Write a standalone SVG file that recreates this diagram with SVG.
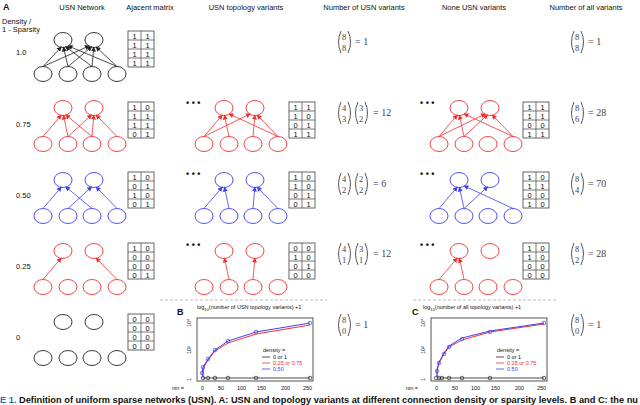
<svg xmlns="http://www.w3.org/2000/svg" width="640" height="405" viewBox="0 0 640 405">
<style>
text{font-family:"Liberation Sans",Arial,sans-serif;fill:#111}
.h{font-size:7.5px;text-anchor:middle}
.lab{font-size:7.5px}
.k{stroke:#222}
.r{stroke:#f03030}
.b{stroke:#4040f0}
.nd ellipse{fill:none;stroke-width:0.9}
.ek path{stroke:#222;stroke-width:0.8;fill:none;marker-end:url(#ak)}
.er path{stroke:#f03030;stroke-width:0.8;fill:none;marker-end:url(#ar)}
.eb path{stroke:#4040f0;stroke-width:0.8;fill:none;marker-end:url(#ab)}
.m rect{fill:#fff;stroke:#555;stroke-width:0.9}
.m line{stroke:#555;stroke-width:0.8}
.m text{font-size:7.5px;text-anchor:middle}
.bn text{font-family:"Liberation Serif",serif;font-size:8.5px;fill:#444}
.bn path{fill:none;stroke:#444;stroke-width:0.9}
.eq{font-family:"Liberation Serif",serif;font-size:10px;fill:#444}
.dots{font-size:9px;font-weight:bold}
.ax{fill:none;stroke:#555;stroke-width:1}
.t{font-size:5.5px}
.sep{stroke:#aaa;stroke-width:0.8;stroke-dasharray:3,2}
</style>
<defs>
<marker id="ak" markerWidth="5" markerHeight="5" refX="4" refY="2.5" orient="auto" markerUnits="userSpaceOnUse"><path d="M0,0 L5,2.5 L0,5z" fill="#222"/></marker>
<marker id="ar" markerWidth="5" markerHeight="5" refX="4" refY="2.5" orient="auto" markerUnits="userSpaceOnUse"><path d="M0,0 L5,2.5 L0,5z" fill="#f03030"/></marker>
<marker id="ab" markerWidth="5" markerHeight="5" refX="4" refY="2.5" orient="auto" markerUnits="userSpaceOnUse"><path d="M0,0 L5,2.5 L0,5z" fill="#4040f0"/></marker>
<g id="nodes36" fill="none" stroke-width="0.9"><ellipse cx="63" cy="0" rx="9" ry="7.5"/><ellipse cx="94" cy="0" rx="9" ry="7.5"/><ellipse cx="43" cy="36" rx="9" ry="7.5"/><ellipse cx="68" cy="36" rx="9" ry="7.5"/><ellipse cx="92" cy="36" rx="9" ry="7.5"/><ellipse cx="117" cy="36" rx="9" ry="7.5"/></g>
</defs>

<!-- headers -->
<text x="3" y="10" style="font-size:9px;font-weight:bold">A</text>
<text class="h" x="82" y="10">USN Network</text>
<text class="h" x="150" y="10">Ajacent matrix</text>
<text class="h" x="246" y="10">USN topology variants</text>
<text class="h" x="364" y="10">Number of USN variants</text>
<text class="h" x="474" y="10">None USN variants</text>
<text class="h" x="586" y="10">Number of all variants</text>
<text class="lab" x="2" y="24">Density /</text>
<text class="lab" x="2" y="32">1 - Sparsity</text>
<text class="lab" x="16" y="55">1.0</text>
<text class="lab" x="16" y="127">0.75</text>
<text class="lab" x="16" y="198">0.50</text>
<text class="lab" x="16" y="269">0.25</text>
<text class="lab" x="16" y="340">0</text>
<text class="dots" x="186" y="106">• • •</text>
<text class="dots" x="186" y="177">• • •</text>
<text class="dots" x="186" y="248">• • •</text>
<text class="dots" x="420" y="106">• • •</text>
<text class="dots" x="420" y="177">• • •</text>
<text class="dots" x="420" y="248">• • •</text>

<!-- nodes -->
<g id="net10" class="k nd" transform="translate(0,40)"><ellipse cx="63" cy="0" rx="9" ry="7.5"/><ellipse cx="94" cy="0" rx="9" ry="7.5"/><ellipse cx="43" cy="34" rx="9" ry="7.5"/><ellipse cx="68" cy="34" rx="9" ry="7.5"/><ellipse cx="92" cy="34" rx="9" ry="7.5"/><ellipse cx="117" cy="34" rx="9" ry="7.5"/></g>
<g id="net075a" class="r" transform="translate(0,108)"><use href="#nodes36"/></g>
<g id="net075b" class="r" transform="translate(161,108)"><use href="#nodes36"/></g>
<g id="net075c" class="r" transform="translate(396,108)"><use href="#nodes36"/></g>
<g id="net050a" class="b" transform="translate(0,180)"><use href="#nodes36"/></g>
<g id="net050b" class="b" transform="translate(161,180)"><use href="#nodes36"/></g>
<g id="net050c" class="b" transform="translate(396,180)"><use href="#nodes36"/></g>
<g id="net025a" class="r" transform="translate(0,251)"><use href="#nodes36"/></g>
<g id="net025b" class="r" transform="translate(161,251)"><use href="#nodes36"/></g>
<g id="net025c" class="r" transform="translate(396,251)"><use href="#nodes36"/></g>
<g id="net0" class="k" transform="translate(0,322)"><use href="#nodes36"/></g>

<!-- connectors -->
<g id="connectors">
<g class="ek" transform="translate(0,40)">
<path d="M43,26.5 L61,7.3"/><path d="M68,26.5 L63.5,7.5"/><path d="M92,26.5 L65.9,6.9"/><path d="M117,26.5 L68.4,6"/>
<path d="M43,26.5 L89,6"/><path d="M68,26.5 L91.4,7"/><path d="M92,26.5 L93.8,7.5"/><path d="M117,26.5 L96.3,7.2"/>
</g>
<g class="er" transform="translate(0,108)">
<path d="M43,28.5 L61,7.3"/><path d="M68,28.5 L63.5,7.5"/><path d="M68,28.5 L91.4,7"/><path d="M92,28.5 L65.9,6.9"/><path d="M92,28.5 L93.8,7.5"/><path d="M117,28.5 L96.3,7.2"/>
</g>
<g class="er" transform="translate(161,108)">
<path d="M43,28.5 L61,7.3"/><path d="M43,28.5 L89,6"/><path d="M68,28.5 L63.5,7.5"/><path d="M92,28.5 L93.8,7.5"/><path d="M117,28.5 L68.4,6"/><path d="M117,28.5 L96.3,7.2"/>
</g>
<g class="er" transform="translate(396,108)">
<path d="M43,28.5 L61,7.3"/><path d="M43,28.5 L89,6"/><path d="M68,28.5 L63.5,7.5"/><path d="M68,28.5 L91.4,7"/><path d="M117,28.5 L68.4,6"/><path d="M117,28.5 L96.3,7.2"/>
</g>
<g class="eb" transform="translate(0,180)">
<path d="M43,28.5 L61,7.3"/><path d="M68,28.5 L91.4,7"/><path d="M92,28.5 L65.9,6.9"/><path d="M117,28.5 L96.3,7.2"/>
</g>
<g class="eb" transform="translate(161,180)">
<path d="M43,28.5 L61,7.3"/><path d="M68,28.5 L63.5,7.5"/><path d="M92,28.5 L93.8,7.5"/><path d="M117,28.5 L96.3,7.2"/>
</g>
<g class="eb" transform="translate(396,180)">
<path d="M43,28.5 L61,7.3"/><path d="M68,28.5 L63.5,7.5"/><path d="M68,28.5 L91.4,7"/><path d="M117,28.5 L68.4,6"/>
</g>
<g class="er" transform="translate(0,251)">
<path d="M43,28.5 L61,7.3"/><path d="M117,28.5 L96.3,7.2"/>
</g>
<g class="er" transform="translate(161,251)">
<path d="M68,28.5 L63.5,7.5"/><path d="M92,28.5 L93.8,7.5"/>
</g>
<g class="er" transform="translate(396,251)">
<path d="M43,28.5 L61,7.3"/><path d="M68,28.5 L63.5,7.5"/>
</g>
</g>

<!-- matrices -->
<g class="m" transform="translate(128,31)"><rect width="26" height="36"/><line x1="13" y1="0" x2="13" y2="36"/><line x1="0" y1="9" x2="26" y2="9"/><line x1="0" y1="18" x2="26" y2="18"/><line x1="0" y1="27" x2="26" y2="27"/>
<text x="6.5" y="7.5">1</text><text x="19.5" y="7.5">1</text><text x="6.5" y="16.5">1</text><text x="19.5" y="16.5">1</text><text x="6.5" y="25.5">1</text><text x="19.5" y="25.5">1</text><text x="6.5" y="34.5">1</text><text x="19.5" y="34.5">1</text></g>
<g class="m" transform="translate(128,102)"><rect width="26" height="36"/><line x1="13" y1="0" x2="13" y2="36"/><line x1="0" y1="9" x2="26" y2="9"/><line x1="0" y1="18" x2="26" y2="18"/><line x1="0" y1="27" x2="26" y2="27"/>
<text x="6.5" y="7.5">1</text><text x="19.5" y="7.5">0</text><text x="6.5" y="16.5">1</text><text x="19.5" y="16.5">1</text><text x="6.5" y="25.5">1</text><text x="19.5" y="25.5">1</text><text x="6.5" y="34.5">0</text><text x="19.5" y="34.5">1</text></g>
<g class="m" transform="translate(289,102)"><rect width="26" height="36"/><line x1="13" y1="0" x2="13" y2="36"/><line x1="0" y1="9" x2="26" y2="9"/><line x1="0" y1="18" x2="26" y2="18"/><line x1="0" y1="27" x2="26" y2="27"/>
<text x="6.5" y="7.5">1</text><text x="19.5" y="7.5">1</text><text x="6.5" y="16.5">1</text><text x="19.5" y="16.5">0</text><text x="6.5" y="25.5">0</text><text x="19.5" y="25.5">1</text><text x="6.5" y="34.5">1</text><text x="19.5" y="34.5">1</text></g>
<g class="m" transform="translate(523,102)"><rect width="26" height="36"/><line x1="13" y1="0" x2="13" y2="36"/><line x1="0" y1="9" x2="26" y2="9"/><line x1="0" y1="18" x2="26" y2="18"/><line x1="0" y1="27" x2="26" y2="27"/>
<text x="6.5" y="7.5">1</text><text x="19.5" y="7.5">1</text><text x="6.5" y="16.5">1</text><text x="19.5" y="16.5">1</text><text x="6.5" y="25.5">0</text><text x="19.5" y="25.5">0</text><text x="6.5" y="34.5">1</text><text x="19.5" y="34.5">1</text></g>
<g class="m" transform="translate(128,172)"><rect width="26" height="36"/><line x1="13" y1="0" x2="13" y2="36"/><line x1="0" y1="9" x2="26" y2="9"/><line x1="0" y1="18" x2="26" y2="18"/><line x1="0" y1="27" x2="26" y2="27"/>
<text x="6.5" y="7.5">1</text><text x="19.5" y="7.5">0</text><text x="6.5" y="16.5">0</text><text x="19.5" y="16.5">1</text><text x="6.5" y="25.5">1</text><text x="19.5" y="25.5">0</text><text x="6.5" y="34.5">0</text><text x="19.5" y="34.5">1</text></g>
<g class="m" transform="translate(289,172)"><rect width="26" height="36"/><line x1="13" y1="0" x2="13" y2="36"/><line x1="0" y1="9" x2="26" y2="9"/><line x1="0" y1="18" x2="26" y2="18"/><line x1="0" y1="27" x2="26" y2="27"/>
<text x="6.5" y="7.5">1</text><text x="19.5" y="7.5">0</text><text x="6.5" y="16.5">1</text><text x="19.5" y="16.5">0</text><text x="6.5" y="25.5">0</text><text x="19.5" y="25.5">1</text><text x="6.5" y="34.5">0</text><text x="19.5" y="34.5">1</text></g>
<g class="m" transform="translate(523,172)"><rect width="26" height="36"/><line x1="13" y1="0" x2="13" y2="36"/><line x1="0" y1="9" x2="26" y2="9"/><line x1="0" y1="18" x2="26" y2="18"/><line x1="0" y1="27" x2="26" y2="27"/>
<text x="6.5" y="7.5">1</text><text x="19.5" y="7.5">0</text><text x="6.5" y="16.5">1</text><text x="19.5" y="16.5">1</text><text x="6.5" y="25.5">0</text><text x="19.5" y="25.5">0</text><text x="6.5" y="34.5">1</text><text x="19.5" y="34.5">0</text></g>
<g class="m" transform="translate(128,243)"><rect width="26" height="36"/><line x1="13" y1="0" x2="13" y2="36"/><line x1="0" y1="9" x2="26" y2="9"/><line x1="0" y1="18" x2="26" y2="18"/><line x1="0" y1="27" x2="26" y2="27"/>
<text x="6.5" y="7.5">1</text><text x="19.5" y="7.5">0</text><text x="6.5" y="16.5">0</text><text x="19.5" y="16.5">0</text><text x="6.5" y="25.5">0</text><text x="19.5" y="25.5">0</text><text x="6.5" y="34.5">0</text><text x="19.5" y="34.5">1</text></g>
<g class="m" transform="translate(289,243)"><rect width="26" height="36"/><line x1="13" y1="0" x2="13" y2="36"/><line x1="0" y1="9" x2="26" y2="9"/><line x1="0" y1="18" x2="26" y2="18"/><line x1="0" y1="27" x2="26" y2="27"/>
<text x="6.5" y="7.5">0</text><text x="19.5" y="7.5">0</text><text x="6.5" y="16.5">1</text><text x="19.5" y="16.5">0</text><text x="6.5" y="25.5">0</text><text x="19.5" y="25.5">1</text><text x="6.5" y="34.5">0</text><text x="19.5" y="34.5">0</text></g>
<g class="m" transform="translate(523,243)"><rect width="26" height="36"/><line x1="13" y1="0" x2="13" y2="36"/><line x1="0" y1="9" x2="26" y2="9"/><line x1="0" y1="18" x2="26" y2="18"/><line x1="0" y1="27" x2="26" y2="27"/>
<text x="6.5" y="7.5">1</text><text x="19.5" y="7.5">0</text><text x="6.5" y="16.5">1</text><text x="19.5" y="16.5">0</text><text x="6.5" y="25.5">0</text><text x="19.5" y="25.5">0</text><text x="6.5" y="34.5">0</text><text x="19.5" y="34.5">0</text></g>
<g class="m" transform="translate(128,314)"><rect width="26" height="36"/><line x1="13" y1="0" x2="13" y2="36"/><line x1="0" y1="9" x2="26" y2="9"/><line x1="0" y1="18" x2="26" y2="18"/><line x1="0" y1="27" x2="26" y2="27"/>
<text x="6.5" y="7.5">0</text><text x="19.5" y="7.5">0</text><text x="6.5" y="16.5">0</text><text x="19.5" y="16.5">0</text><text x="6.5" y="25.5">0</text><text x="19.5" y="25.5">0</text><text x="6.5" y="34.5">0</text><text x="19.5" y="34.5">0</text></g>

<!-- binomials -->
<g class="bn" transform="translate(337,42)"><path d="M4,-11 Q-1,0 4,11"/><path d="M11,-11 Q16,0 11,11"/><text x="5" y="-2">8</text><text x="5" y="9">8</text></g>
<text class="eq" x="355" y="45">= 1</text>
<g class="bn" transform="translate(570,42)"><path d="M4,-11 Q-1,0 4,11"/><path d="M11,-11 Q16,0 11,11"/><text x="5" y="-2">8</text><text x="5" y="9">8</text></g>
<text class="eq" x="588" y="45">= 1</text>

<g class="bn" transform="translate(337,113)"><path d="M4,-11 Q-1,0 4,11"/><path d="M11,-11 Q16,0 11,11"/><text x="5" y="-2">4</text><text x="5" y="9">3</text></g>
<g class="bn" transform="translate(354,113)"><path d="M4,-11 Q-1,0 4,11"/><path d="M11,-11 Q16,0 11,11"/><text x="5" y="-2">3</text><text x="5" y="9">2</text></g>
<text class="eq" x="373" y="116">= 12</text>
<g class="bn" transform="translate(570,113)"><path d="M4,-11 Q-1,0 4,11"/><path d="M11,-11 Q16,0 11,11"/><text x="5" y="-2">8</text><text x="5" y="9">6</text></g>
<text class="eq" x="588" y="116">= 28</text>

<g class="bn" transform="translate(337,184)"><path d="M4,-11 Q-1,0 4,11"/><path d="M11,-11 Q16,0 11,11"/><text x="5" y="-2">4</text><text x="5" y="9">2</text></g>
<g class="bn" transform="translate(354,184)"><path d="M4,-11 Q-1,0 4,11"/><path d="M11,-11 Q16,0 11,11"/><text x="5" y="-2">2</text><text x="5" y="9">2</text></g>
<text class="eq" x="373" y="187">= 6</text>
<g class="bn" transform="translate(570,184)"><path d="M4,-11 Q-1,0 4,11"/><path d="M11,-11 Q16,0 11,11"/><text x="5" y="-2">8</text><text x="5" y="9">4</text></g>
<text class="eq" x="588" y="187">= 70</text>

<g class="bn" transform="translate(337,254)"><path d="M4,-11 Q-1,0 4,11"/><path d="M11,-11 Q16,0 11,11"/><text x="5" y="-2">4</text><text x="5" y="9">1</text></g>
<g class="bn" transform="translate(354,254)"><path d="M4,-11 Q-1,0 4,11"/><path d="M11,-11 Q16,0 11,11"/><text x="5" y="-2">3</text><text x="5" y="9">1</text></g>
<text class="eq" x="373" y="257">= 12</text>
<g class="bn" transform="translate(570,254)"><path d="M4,-11 Q-1,0 4,11"/><path d="M11,-11 Q16,0 11,11"/><text x="5" y="-2">8</text><text x="5" y="9">2</text></g>
<text class="eq" x="588" y="257">= 28</text>

<g class="bn" transform="translate(337,325)"><path d="M4,-11 Q-1,0 4,11"/><path d="M11,-11 Q16,0 11,11"/><text x="5" y="-2">8</text><text x="5" y="9">0</text></g>
<text class="eq" x="355" y="328">= 1</text>
<g class="bn" transform="translate(570,325)"><path d="M4,-11 Q-1,0 4,11"/><path d="M11,-11 Q16,0 11,11"/><text x="5" y="-2">8</text><text x="5" y="9">0</text></g>
<text class="eq" x="588" y="328">= 1</text>

<line class="sep" x1="160" y1="300" x2="327" y2="300"/>
<line class="sep" x1="413" y1="300" x2="557" y2="300"/>

<!-- plots -->
<g id="plotB">
<text x="177" y="315" style="font-size:9px;font-weight:bold">B</text>
<text class="t" x="197" y="309">log<tspan dy="1.5" style="font-size:4px">10</tspan><tspan dy="-1.5">(number of USN topology variants) +1</tspan></text>
<rect class="ax" x="197" y="318" width="116" height="63"/>
<g class="t"><text transform="translate(191,327) rotate(-90)">10⁴</text><text transform="translate(191,354) rotate(-90)">10²</text><text transform="translate(191,381) rotate(-90)">1</text>
<text x="172" y="390">nin =</text><text x="201" y="390">0</text><text x="218" y="390">50</text><text x="237" y="390">100</text><text x="257" y="390">150</text><text x="281" y="390">200</text><text x="303" y="390">250</text>
<text x="263" y="352">density =</text><text x="273" y="359">0 or 1</text><text x="273" y="365" style="fill:#f03030">0.25 or 0.75</text><text x="273" y="371" style="fill:#4040f0">0.50</text></g>
<line x1="262" y1="357" x2="270" y2="357" stroke="#222" stroke-width="0.8"/><line x1="262" y1="363" x2="270" y2="363" stroke="#f03030" stroke-width="0.8"/><line x1="262" y1="369" x2="270" y2="369" stroke="#4040f0" stroke-width="0.8"/>
<path d="M203,378 L310,378" stroke="#222" stroke-width="0.8"/>
<g fill="none" stroke="#222" stroke-width="0.7"><circle cx="203" cy="378" r="1.8"/><circle cx="208" cy="378" r="1.8"/><circle cx="215" cy="378" r="1.8"/><circle cx="228" cy="378" r="1.8"/><circle cx="256" cy="378" r="1.8"/><circle cx="310" cy="378" r="1.8"/></g>
<path d="M203,378 L203,373 L204,367 L208,360 L215,351 L228,343 L256,334 L310,325" fill="none" stroke="#f03030" stroke-width="1"/>
<path d="M203,377 L202,373 L203,367 L208,359 L215,350 L228,341 L256,332 L310,323" fill="none" stroke="#4040f0" stroke-width="1"/>
<g fill="none" stroke="#4040f0" stroke-width="0.7"><circle cx="202" cy="373" r="1.8"/><circle cx="203" cy="367" r="1.8"/><circle cx="208" cy="359" r="1.8"/><circle cx="215" cy="350" r="1.8"/><circle cx="228" cy="341" r="1.8"/><circle cx="256" cy="332" r="1.8"/><circle cx="310" cy="323" r="1.8"/></g>
</g>
<g id="plotC" transform="translate(234,0)">
<text x="178" y="315" style="font-size:9px;font-weight:bold">C</text>
<text class="t" x="189" y="309">log<tspan dy="1.5" style="font-size:4px">10</tspan><tspan dy="-1.5">(number of all topology variants) +1</tspan></text>
<rect class="ax" x="197" y="318" width="116" height="63"/>
<g class="t"><text transform="translate(191,327) rotate(-90)">10⁴</text><text transform="translate(191,354) rotate(-90)">10²</text><text transform="translate(191,381) rotate(-90)">1</text>
<text x="172" y="390">nin =</text><text x="201" y="390">0</text><text x="218" y="390">50</text><text x="237" y="390">100</text><text x="257" y="390">150</text><text x="281" y="390">200</text><text x="303" y="390">250</text>
<text x="263" y="352">density =</text><text x="273" y="359">0 or 1</text><text x="273" y="365" style="fill:#f03030">0.25 or 0.75</text><text x="273" y="371" style="fill:#4040f0">0.50</text></g>
<line x1="262" y1="357" x2="270" y2="357" stroke="#222" stroke-width="0.8"/><line x1="262" y1="363" x2="270" y2="363" stroke="#f03030" stroke-width="0.8"/><line x1="262" y1="369" x2="270" y2="369" stroke="#4040f0" stroke-width="0.8"/>
<path d="M203,378 L310,378" stroke="#222" stroke-width="0.8"/>
<g fill="none" stroke="#222" stroke-width="0.7"><circle cx="202" cy="378" r="1.8"/><circle cx="205" cy="378" r="1.8"/><circle cx="208" cy="378" r="1.8"/><circle cx="215" cy="378" r="1.8"/><circle cx="228" cy="378" r="1.8"/><circle cx="256" cy="378" r="1.8"/><circle cx="310" cy="378" r="1.8"/></g>
<path d="M203,378 L203,371 L205,363 L210,354 L215,347 L228,340 L256,332 L310,324" fill="none" stroke="#f03030" stroke-width="1"/>
<path d="M203,377 L203,370 L205,362 L210,353 L215,346 L228,338 L256,331 L310,323" fill="none" stroke="#4040f0" stroke-width="1"/>
<g fill="none" stroke="#4040f0" stroke-width="0.7"><circle cx="203" cy="371" r="1.8"/><circle cx="205" cy="363" r="1.8"/><circle cx="210" cy="354" r="1.8"/><circle cx="215" cy="347" r="1.8"/><circle cx="228" cy="339" r="1.8"/><circle cx="256" cy="332" r="1.8"/><circle cx="310" cy="323" r="1.8"/></g>
</g>

<text x="0" y="403" textLength="638" lengthAdjust="spacingAndGlyphs" style="font-size:9px;font-weight:bold"><tspan style="fill:#2a6db0">E 1.</tspan> Definition of uniform sparse networks (USN). A: USN and topology variants at different connection density or sparsity levels. B and C: the nu</text>
</svg>
